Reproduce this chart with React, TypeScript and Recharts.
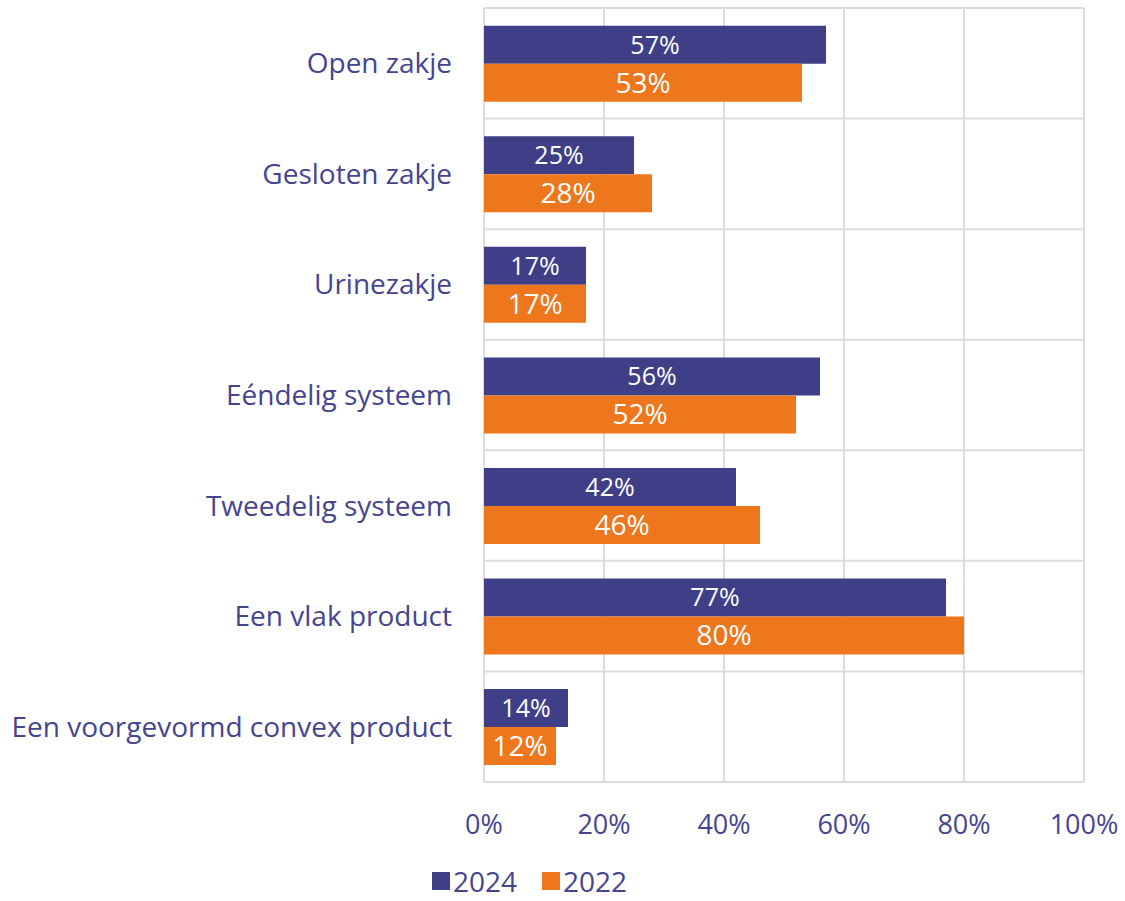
import { Bar, BarChart, CartesianGrid, LabelList, Legend, XAxis, YAxis } from "recharts";

const categories = [
    "Open zakje",
    "Gesloten zakje ",
    "Urinezakje",
    "Eéndelig systeem ",
    "Tweedelig systeem",
    "Een vlak product",
    "Een voorgevormd convex product",
];
const values2024 = [57, 25, 17, 56, 42, 77, 14];
const values2022 = [53, 28, 17, 52, 46, 80, 12];
const xTicks = [0, 20, 40, 60, 80, 100];

const data = categories.map((name, i) => ({ name, y2024: values2024[i], y2022: values2022[i] }));

const NAVY = "#3f3f87";
const ORANGE = "#ee761c";
const TEXT = "#45458f";
const FONT = "'Open Sans', sans-serif";

const LegendBox = () => (
    <div style={{ display: "flex", alignItems: "center", fontFamily: FONT, fontSize: 28, color: TEXT, whiteSpace: "nowrap" }}>
        <span style={{ width: 18, height: 18, background: NAVY, display: "inline-block", marginRight: 3 }} />
        <span style={{ marginRight: 25 }}>2024</span>
        <span style={{ width: 18, height: 18, background: ORANGE, display: "inline-block", marginRight: 3 }} />
        <span>2022</span>
    </div>
);

const App = () => {
    return (
        <div style={{ position: "absolute", left: 0, top: 0, background: "white" }}>
            <BarChart
                width={1125}
                height={901}
                data={data}
                layout="vertical"
                barCategoryGap="16%"
                barGap={0}
                margin={{ top: 8, right: 41, left: 0, bottom: 89 }}
            >
                <CartesianGrid
                    stroke="#dcdcdc"
                    strokeWidth={2}
                    horizontalCoordinatesGenerator={({ offset }: any) =>
                        categories.concat([""]).map((_, i) => offset.top + (i * offset.height) / categories.length)
                    }
                />
                <XAxis
                    type="number"
                    domain={[0, 100]}
                    ticks={xTicks}
                    tickFormatter={(v) => `${v}%`}
                    axisLine={false}
                    tickLine={false}
                    tickSize={0}
                    tickMargin={33}
                    tick={{ fill: TEXT, fontSize: 27, fontFamily: FONT }}
                    interval={0}
                />
                <YAxis
                    type="category"
                    dataKey="name"
                    width={484}
                    axisLine={false}
                    tickLine={false}
                    tickSize={0}
                    tickMargin={32}
                    tick={{ fill: TEXT, fontSize: 28, fontFamily: FONT }}
                    interval={0}
                />
                <Legend
                    verticalAlign="middle"
                    content={() => <LegendBox />}
                    wrapperStyle={{ left: 432, top: 862, width: 220 }}
                />
                <Bar dataKey="y2024" name="2024" fill={NAVY} isAnimationActive={false}>
                    <LabelList
                        dataKey="y2024"
                        position="center"
                        formatter={(v: any) => `${v}%`}
                        fill="#ffffff"
                        style={{ fontSize: 25, fontFamily: FONT }}
                    />
                </Bar>
                <Bar dataKey="y2022" name="2022" fill={ORANGE} isAnimationActive={false}>
                    <LabelList
                        dataKey="y2022"
                        position="center"
                        formatter={(v: any) => `${v}%`}
                        fill="#ffffff"
                        style={{ fontSize: 28, fontFamily: FONT }}
                    />
                </Bar>
            </BarChart>
        </div>
    );
};

export default App;
